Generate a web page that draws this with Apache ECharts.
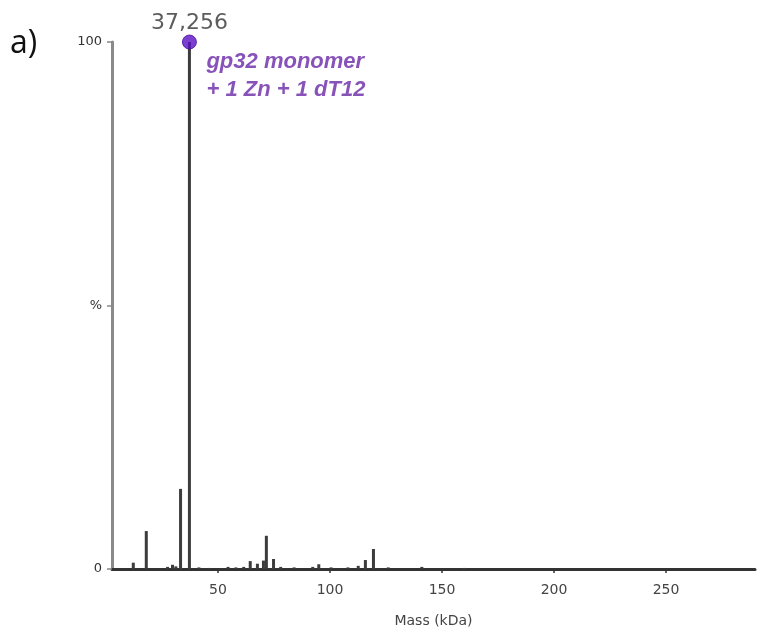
<!DOCTYPE html>
<html>
<head>
<meta charset="utf-8">
<script src="https://cdn.jsdelivr.net/npm/echarts@6/dist/echarts.min.js"></script>
<style>
	html, body { margin: 0; padding: 0; background: #fff; }
	#main { width: 758px; height: 636px; }
</style>
</head>
<body>
<div id="main"></div>
<script>
// peak masses (kDa) and relative intensities (%)
var peakMass = [12.2, 18.0, 27.5, 29.7, 31.2, 33.3, 37.256, 41.5, 46.0, 54.5, 58.0, 61.5, 64.4, 67.6, 70.3, 71.6, 74.8, 78.0, 84.0, 92.3, 95.0, 100.5, 108.0, 112.6, 115.8, 119.4, 126.0, 141.0, 160.0];
var peakInt = [1.2, 7.2, 0.4, 0.8, 0.5, 15.2, 100, 0.3, 0.2, 0.4, 0.3, 0.4, 1.5, 1.0, 1.6, 6.3, 1.9, 0.4, 0.3, 0.4, 0.9, 0.3, 0.3, 0.6, 1.7, 3.8, 0.3, 0.4, 0.2];
var xTicks = [50, 100, 150, 200, 250];
var yTickNames = { 0: '0', 50: '%', 100: '100' };
var topPeak = [37.256, 100];
var topLabel = '37,256';
var annotation = 'gp32 monomer\n+ 1 Zn + 1 dT12';

var chart = echarts.init(document.getElementById('main'));

var peaks = [];
for (var i = 0; i < peakMass.length; i++) {
	peaks.push([peakMass[i], peakInt[i]]);
}

var option = {
	animation: false,
	grid: {
		left: 112,
		right: 3,
		top: 42,
		bottom: 67
	},
	xAxis: {
		type: 'value',
		min: 2.7,
		max: 289.7,
		name: 'Mass (kDa)',
		nameLocation: 'middle',
		nameGap: 45,
		nameTextStyle: {
			color: '#444',
			fontSize: 14,
			fontFamily: 'DejaVu Sans'
		},
		splitLine: { show: false },
		axisLine: {
			lineStyle: { color: '#333', width: 3 }
		},
		axisTick: {
			customValues: xTicks,
			length: 4,
			lineStyle: { color: '#333', width: 1.5 }
		},
		axisLabel: {
			customValues: xTicks,
			color: '#444',
			fontSize: 14,
			fontFamily: 'DejaVu Sans',
			margin: 14
		}
	},
	yAxis: {
		type: 'value',
		min: 0,
		max: 100,
		interval: 50,
		splitLine: { show: false },
		axisLine: {
			show: true,
			lineStyle: { color: '#8a8a8a', width: 3 }
		},
		axisTick: {
			show: true,
			length: 5,
			lineStyle: { color: '#888', width: 1.5 }
		},
		axisLabel: {
			color: '#333',
			fontSize: 13,
			fontFamily: 'DejaVu Sans',
			margin: 10,
			formatter: function (v) {
				return yTickNames[v];
			}
		}
	},
	series: [{
		type: 'bar',
		barWidth: 3,
		itemStyle: { color: '#3c3c3c' },
		data: peaks
	}, {
		type: 'scatter',
		symbol: 'circle',
		symbolSize: 14,
		itemStyle: { color: '#5b10c6', borderColor: '#4a0aa0', borderWidth: 1 },
		label: {
			show: true,
			position: 'top',
			distance: 0,
			color: '#333',
			fontSize: 22,
			fontFamily: 'DejaVu Sans',
			formatter: topLabel
		},
		data: [topPeak],
		z: 5
	}, {
		type: 'scatter',
		symbolSize: 0,
		silent: true,
		label: {
			show: true,
			position: [17, 6],
			color: '#6a28a8',
			fontSize: 22,
			fontStyle: 'italic',
			fontWeight: 'bold',
			fontFamily: 'Liberation Sans',
			lineHeight: 28,
			formatter: annotation
		},
		data: [topPeak]
	}],
	graphic: [{
		type: 'text',
		left: 10,
		top: 28,
		style: {
			text: 'a)',
			fontSize: 32,
			fontFamily: 'Open Sans',
			fill: '#111'
		}
	}]
};

chart.setOption(option);
</script>
</body>
</html>
